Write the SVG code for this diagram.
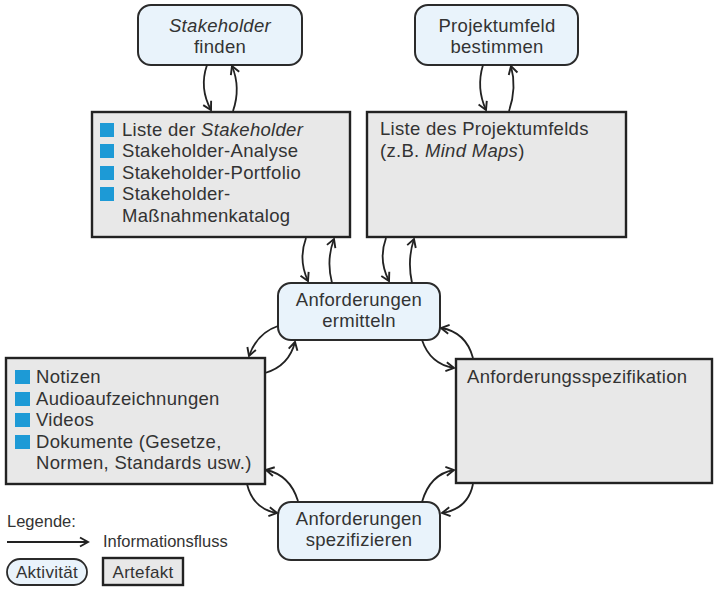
<svg xmlns="http://www.w3.org/2000/svg" width="725" height="591" viewBox="0 0 725 591">
<style>
text{font-family:"Liberation Sans",Arial,sans-serif;fill:#333;font-size:18.5px;letter-spacing:0.3px}
.act{fill:#e9f3fb;stroke:#2b2b2b;stroke-width:2}
.art{fill:#e8e8e8;stroke:#222;stroke-width:2.4}
.bul{fill:#1d9ad6}
.c{text-anchor:middle}
.lg{font-size:16.5px;letter-spacing:0}
.lb{font-size:17px;letter-spacing:0.3px}
.con path{fill:none;stroke:#222;stroke-width:1.8;marker-end:url(#ah)}
</style>
<defs>
<marker id="ah" markerUnits="userSpaceOnUse" markerWidth="14" markerHeight="14" refX="9" refY="6" orient="auto">
<path d="M1,1.5 L9,6 L1,10.5" fill="none" stroke="#222" stroke-width="1.9"/>
</marker>
</defs>
<rect width="725" height="591" fill="#fff"/>

<g id="stakeholder-finden">
<rect class="act" x="138" y="5" width="164" height="60" rx="13"/>
<text class="c" x="220" y="32" font-style="italic">Stakeholder</text>
<text class="c" x="220" y="53">finden</text>
</g>

<g id="projektumfeld-bestimmen">
<rect class="act" x="415" y="5" width="163" height="60" rx="13"/>
<text class="c" x="497" y="32">Projektumfeld</text>
<text class="c" x="497" y="53">bestimmen</text>
</g>

<g id="liste-stakeholder">
<rect class="art" x="92" y="112" width="258" height="125"/>
<rect class="bul" x="100" y="123" width="14" height="14"/>
<rect class="bul" x="100" y="144" width="14" height="14"/>
<rect class="bul" x="100" y="166" width="14" height="14"/>
<rect class="bul" x="100" y="187" width="14" height="14"/>
<text x="122" y="136">Liste der <tspan font-style="italic">Stakeholder</tspan></text>
<text x="122" y="157">Stakeholder-Analyse</text>
<text x="122" y="179">Stakeholder-Portfolio</text>
<text x="122" y="200">Stakeholder-</text>
<text x="122" y="222">Maßnahmenkatalog</text>
</g>

<g id="liste-projektumfeld">
<rect class="art" x="367" y="112" width="259" height="125"/>
<text x="380" y="135">Liste des Projektumfelds</text>
<text x="380" y="157">(z.B. <tspan font-style="italic">Mind Maps</tspan>)</text>
</g>

<g id="anforderungen-ermitteln">
<rect class="act" x="278" y="283" width="162" height="57" rx="13"/>
<text class="c" x="359" y="306">Anforderungen</text>
<text class="c" x="359" y="327">ermitteln</text>
</g>

<g id="notizen">
<rect class="art" x="6" y="358" width="259" height="126"/>
<rect class="bul" x="15" y="370" width="15" height="14"/>
<rect class="bul" x="15" y="392" width="15" height="14"/>
<rect class="bul" x="15" y="413" width="15" height="14"/>
<rect class="bul" x="15" y="435" width="15" height="14"/>
<text x="36" y="383">Notizen</text>
<text x="36" y="405">Audioaufzeichnungen</text>
<text x="36" y="426">Videos</text>
<text x="36" y="448">Dokumente (Gesetze,</text>
<text x="36" y="469">Normen, Standards usw.)</text>
</g>

<g id="anforderungsspezifikation">
<rect class="art" x="456" y="359" width="256" height="124"/>
<text x="467" y="383">Anforderungsspezifikation</text>
</g>

<g id="anforderungen-spezifizieren">
<rect class="act" x="278" y="502" width="162" height="58" rx="13"/>
<text class="c" x="359" y="525">Anforderungen</text>
<text class="c" x="359" y="546">spezifizieren</text>
</g>

<g id="connectors" class="con">
<path d="M207,65 Q199,88 211,110"/>
<path d="M233,111 Q241,88 232,66"/>
<path d="M483,65 Q476,88 486,110"/>
<path d="M509,111 Q517,88 511,66"/>
<path d="M306,238 Q298,260 308,281"/>
<path d="M332,283 Q326,260 334,239"/>
<path d="M386,238 Q378,260 389,281"/>
<path d="M412,283 Q407,260 414,239"/>
<path d="M278,326 Q257,333 249,356"/>
<path d="M265,373 Q289,366 295,342"/>
<path d="M422,340 Q430,364 454,368"/>
<path d="M473,358 Q466,332 441,328"/>
<path d="M247,484 Q253,509 277,513"/>
<path d="M298,501 Q290,475 266,470"/>
<path d="M422,502 Q430,474 454,470"/>
<path d="M473,484 Q468,509 442,513"/>
</g>

<g id="legende">
<text class="lg" x="7" y="527">Legende:</text>
<g class="con"><path d="M7,542 L88,542"/></g>
<text class="lg" x="103" y="547">Informationsfluss</text>
<rect class="act" x="7" y="559" width="80" height="26" rx="13" style="stroke-width:1.8"/>
<text class="lb c" x="47" y="578">Aktivität</text>
<rect class="art" x="103" y="558" width="80" height="27"/>
<text class="lb c" x="143" y="578">Artefakt</text>
</g>
</svg>
